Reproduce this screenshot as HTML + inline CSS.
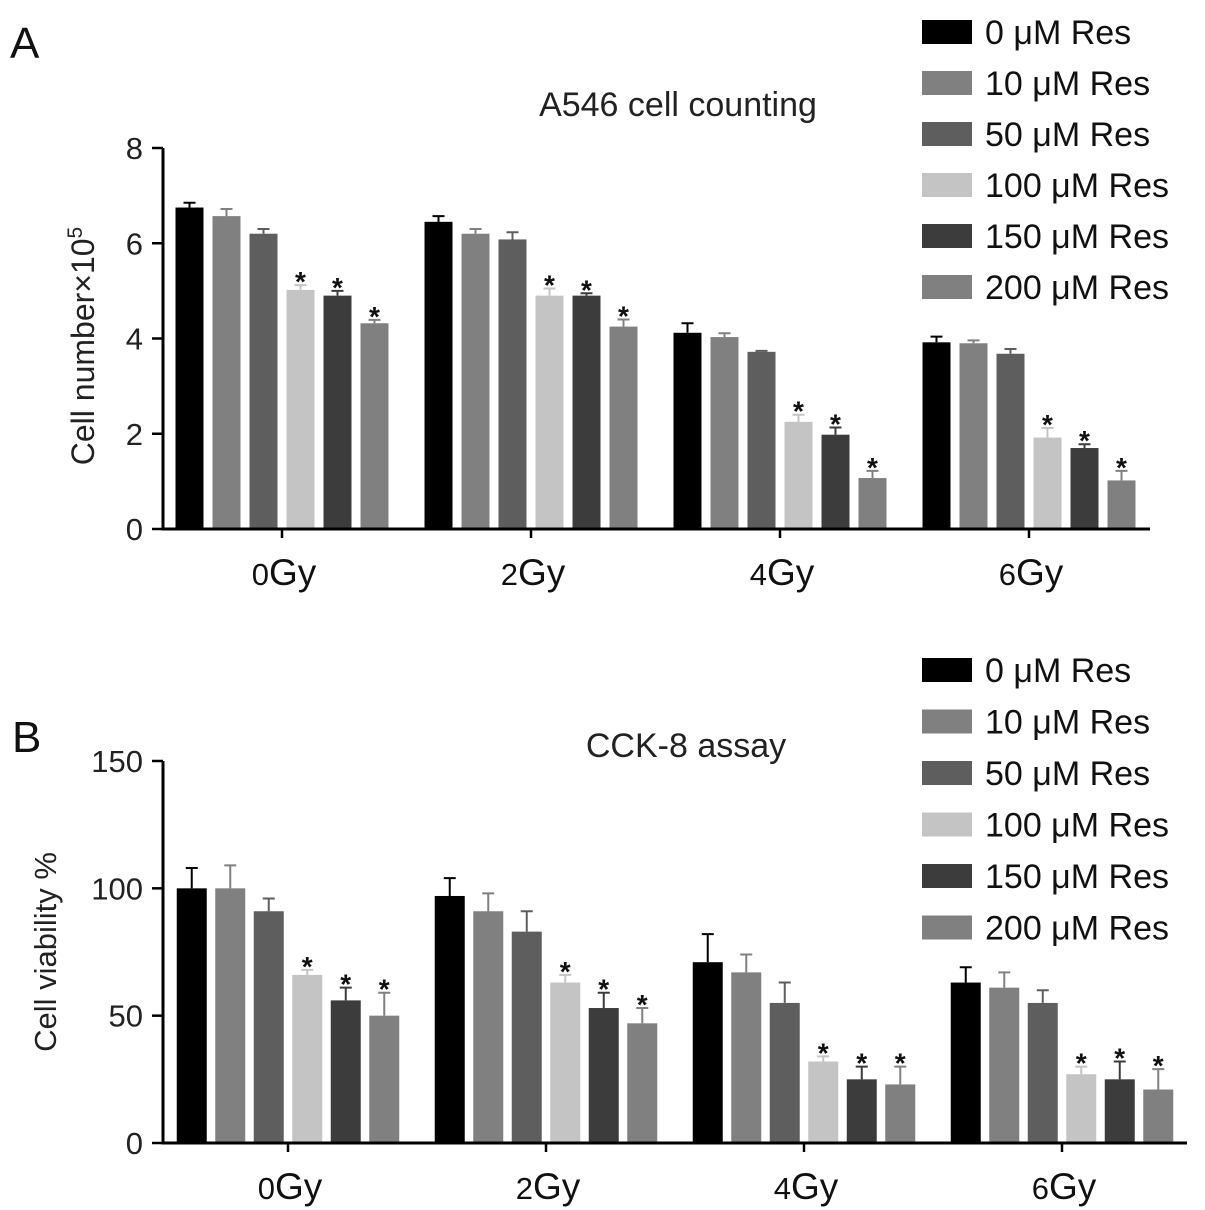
<!DOCTYPE html>
<html><head><meta charset="utf-8"><style>
html,body{margin:0;padding:0;background:#fff;}
svg{display:block;font-family:"Liberation Sans",sans-serif;}
</style></head><body>
<svg id="fig" width="1205" height="1210" viewBox="0 0 1205 1210"></svg>
<script>
const groups = ["0Gy","2Gy","4Gy","6Gy"];
const groupNums = ["0","2","4","6"];
const seriesNames = ["0 μM Res","10 μM Res","50 μM Res","100 μM Res","150 μM Res","200 μM Res"];
const colors = ["#000000","#808080","#5e5e5e","#c4c4c4","#3c3c3c","#808080"];
const starFlags = [false,false,false,true,true,true];
// Panel A values (per group, per series)
const aVals = [[6.75,6.57,6.2,5.02,4.9,4.32],[6.45,6.2,6.08,4.9,4.9,4.25],[4.12,4.03,3.72,2.25,1.98,1.07],[3.92,3.9,3.68,1.92,1.7,1.02]];
const aErr = [[0.1,0.15,0.1,0.1,0.1,0.07],[0.12,0.1,0.15,0.15,0.05,0.15],[0.2,0.08,0.02,0.15,0.15,0.15],[0.12,0.06,0.1,0.2,0.08,0.2]];
const aTicks = [0,2,4,6,8];
// Panel B values
const bVals = [[100,100,91,66,56,50],[97,91,83,63,53,47],[71,67,55,32,25,23],[63,61,55,27,25,21]];
const bErr = [[8,9,5,2,5,9],[7,7,8,3,6,6],[11,7,8,2,5,7],[6,6,5,3,7,8]];
const bTicks = [0,50,100,150];

const NS="http://www.w3.org/2000/svg";
const svg=document.getElementById('fig');
function mk(tag,attrs,parent,txt){const e=document.createElementNS(NS,tag);for(const k in attrs)e.setAttribute(k,attrs[k]);if(txt!==undefined)e.textContent=txt;(parent||svg).appendChild(e);return e;}

function panel(cfg){
  const g=mk('g',{});
  
  
  const y=v=>cfg.y0-(v-cfg.min)/(cfg.max-cfg.min)*(cfg.y0-cfg.y1);
  const gx=i=>cfg.gx0+i*cfg.gstep;
  cfg.vals.forEach((row,gi)=>{
    row.forEach((v,si)=>{
      const cx=gx(gi)+(si-2.5)*cfg.pitch;
      const top=y(v), etop=y(v+cfg.err[gi][si]);
      const r=mk('rect',{x:cx-cfg.bw/2,y:top,width:cfg.bw,height:cfg.y0-top,fill:colors[si]},g);
      
      
      const eb=mk('path',{d:`M${cx} ${top}V${etop}M${cx-6} ${etop}H${cx+6}`,stroke:colors[si],'stroke-width':2,fill:'none'},g);
      
      
      if(starFlags[si]){
        const s=mk('text',{x:cx,y:etop+6,'text-anchor':'middle','font-size':28,'font-weight':'bold',fill:'#111'},g,'*');
        
        
      }
    });
  });
  const ax=mk('path',{d:`M${cfg.ax} ${cfg.y1}V${cfg.y0}H${cfg.xend}`,stroke:'#000','stroke-width':3,fill:'none'},g);
  
  
  cfg.ticks.forEach(t=>{
    mk('line',{x1:cfg.ax-11,x2:cfg.ax,y1:y(t),y2:y(t),stroke:'#000','stroke-width':2.5},g);
    const tl=mk('text',{x:cfg.ax-20,y:y(t)+11,'text-anchor':'end','font-size':31,fill:'#222'},g,String(t));
    
    
  });
  groups.forEach((gn,i)=>{
    mk('line',{x1:gx(i),x2:gx(i),y1:cfg.y0,y2:cfg.y0+9,stroke:'#000','stroke-width':2.5},g);
    const t=mk('text',{x:gx(i)+2,y:cfg.y0+56,'text-anchor':'middle','font-size':37,fill:'#111'},g);
    
    
    mk('tspan',{'font-size':31},t,groupNums[i]);
    mk('tspan',{},t,'Gy');
  });
  const yt=mk('text',{transform:`translate(${cfg.ytx},${cfg.yty}) rotate(-90)`,'text-anchor':'middle','font-size':cfg.ytfs,fill:'#222'},g);
  
  
  yt.innerHTML=cfg.ytitle;
  const ti=mk('text',{x:cfg.tx,y:cfg.ty,'text-anchor':'middle','font-size':34,fill:'#222'},g,cfg.title);
  
  
  const pl=mk('text',{x:cfg.px,y:cfg.py,'font-size':44,fill:'#111'},g,cfg.letter);
  
  
  seriesNames.forEach((n,i)=>{
    const cy=cfg.ly+i*cfg.lstep;
    const le=mk('g',{},g);
    
    
    mk('rect',{x:922,y:cy-12,width:50,height:24,fill:colors[i]},le);
    mk('text',{x:985,y:cy+12,'font-size':34,fill:'#111'},le,n);
  });
}

panel({name:'panel-a',letter:'A',px:10,py:58,vals:aVals,err:aErr,ticks:aTicks,min:0,max:8,y0:529,y1:148,ax:163,xend:1150,
  gx0:282,gstep:249,pitch:37,bw:28,ytitle:'Cell number×10<tspan dy="-12" font-size="21">5</tspan>',ytfs:32,ytx:94,yty:346,
  title:'A546 cell counting',tx:678,ty:116,ly:32,lstep:51});
panel({name:'panel-b',letter:'B',px:12,py:752,vals:bVals,err:bErr,ticks:bTicks,min:0,max:150,y0:1143,y1:761,ax:163,xend:1187,
  gx0:288,gstep:258,pitch:38.5,bw:30,ytitle:'Cell viability %',ytfs:31,ytx:56,yty:952,
  title:'CCK-8  assay',tx:686,ty:757,ly:670,lstep:51.5});
</script>
</body></html>
